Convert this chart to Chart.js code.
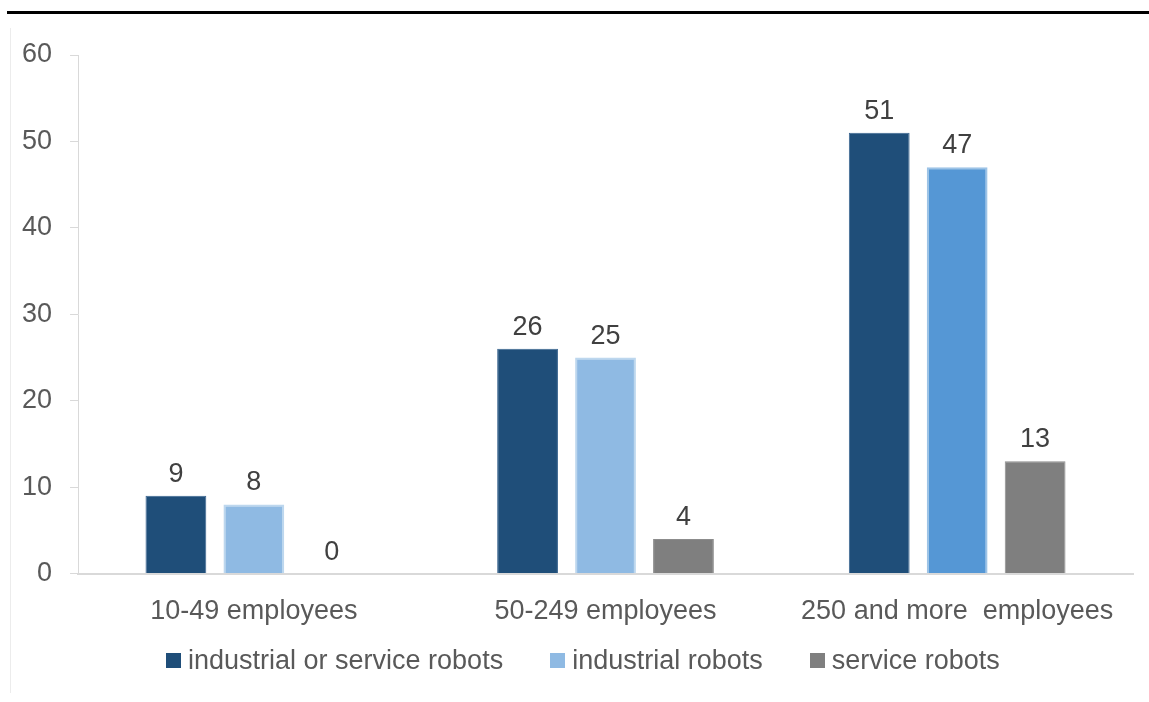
<!DOCTYPE html>
<html>
<head>
<meta charset="utf-8">
<script src="https://cdn.jsdelivr.net/npm/chart.js@4.4.0/dist/chart.umd.min.js"></script>
<style>
	html, body { margin: 0; padding: 0; background: #ffffff; }
	#wrap { position: relative; width: 1149px; height: 702px; overflow: hidden; }
	#topline { position: absolute; left: 7px; top: 11px; width: 1142px; height: 3px; background: #000000; }
	#leftline { position: absolute; left: 10px; top: 28px; width: 1px; height: 665px; background: #ececec; }
	#lienzo { position: absolute; left: 0; top: 0; }
	#legend { position: absolute; left: 166px; top: 645px; display: flex; align-items: center;
		font-family: "Liberation Sans", Arial, sans-serif; font-size: 27px; color: #595959; white-space: nowrap; }
	#legend .item { display: flex; align-items: center; margin-right: 47px; }
	#legend .box { width: 15px; height: 15px; margin-right: 7px; box-sizing: border-box; }
</style>
</head>
<body>
<div id="wrap">
	<div id="topline"></div>
	<div id="leftline"></div>
	<canvas id="lienzo" width="1149" height="702"></canvas>
	<div id="legend"></div>
</div>
<script>
// data
const categories = ['10-49 employees', '50-249 employees', '250 and more  employees'];
const seriesNames = ['industrial or service robots', 'industrial robots', 'service robots'];
const industrialOrService = [9, 26, 51];
const industrial = [8, 25, 47];
const service = [0, 4, 13];
const yTicks = [0, 10, 20, 30, 40, 50, 60];

const fontFam = '"Liberation Sans", Arial, sans-serif';
const textColor = '#595959';
const axisColor = '#d9d9d9';

const dtsts = [
	{
		label: seriesNames[0],
		data: industrialOrService,
		backgroundColor: '#1F4E79',
		borderColor: '#3a6590',
		borderWidth: 1,
	},
	{
		label: seriesNames[1],
		data: industrial,
		backgroundColor: ['#8FBAE3', '#8FBAE3', '#5597D5'],
		borderColor: ['#bdd7ee', '#bdd7ee', '#9dc3e6'],
		borderWidth: 2,
	},
	{
		label: seriesNames[2],
		data: service,
		backgroundColor: '#7F7F7F',
		borderColor: '#8c8c8c',
		borderWidth: 1,
	}
];

// value labels above each bar
const barValues = {
	id: 'barValues',
	afterDatasetsDraw: (chart) => {
		const {ctx} = chart;
		ctx.save();
		ctx.font = '27px ' + fontFam;
		ctx.fillStyle = '#404040';
		ctx.textAlign = 'center';
		ctx.textBaseline = 'alphabetic';
		chart.data.datasets.forEach((ds, i) => {
			chart.getDatasetMeta(i).data.forEach((bar, j) => {
				ctx.fillText(String(ds.data[j]), bar.x, bar.y - 14);
			});
		});
		ctx.restore();
	}
};

const chart = new Chart(document.getElementById('lienzo'), {
	type: 'bar',
	data: {
		labels: categories,
		datasets: dtsts,
	},
	options: {
		responsive: false,
		animation: false,
		layout: {
			padding: { top: 55, right: 16, bottom: 52, left: 4 }
		},
		datasets: {
			bar: { categoryPercentage: 0.665, barPercentage: 0.78 }
		},
		scales: {
			y: {
				min: 0,
				max: 60,
				afterBuildTicks: (scale) => { scale.ticks = yTicks.map(v => ({ value: v })); },
				ticks: {
					color: textColor,
					padding: 18,
					font: { family: fontFam, size: 27 },
				},
				grid: {
					drawOnChartArea: false,
					drawTicks: true,
					tickLength: 8,
					color: axisColor,
				},
				border: { color: axisColor, width: 1 },
			},
			x: {
				ticks: {
					color: textColor,
					padding: 22,
					font: { family: fontFam, size: 27 },
				},
				grid: { display: false, drawTicks: false },
				border: { color: axisColor, width: 2 },
			},
		},
		plugins: {
			legend: { display: false },
			tooltip: { enabled: false },
		},
	},
	plugins: [barValues],
});

// html legend built from the datasets
const lg = document.getElementById('legend');
dtsts.forEach((ds) => {
	const it = document.createElement('div');
	it.className = 'item';
	const bx = document.createElement('div');
	bx.className = 'box';
	bx.style.background = Array.isArray(ds.backgroundColor) ? ds.backgroundColor[0] : ds.backgroundColor;
	const tx = document.createElement('span');
	tx.textContent = ds.label;
	it.appendChild(bx);
	it.appendChild(tx);
	lg.appendChild(it);
});
</script>
</body>
</html>
